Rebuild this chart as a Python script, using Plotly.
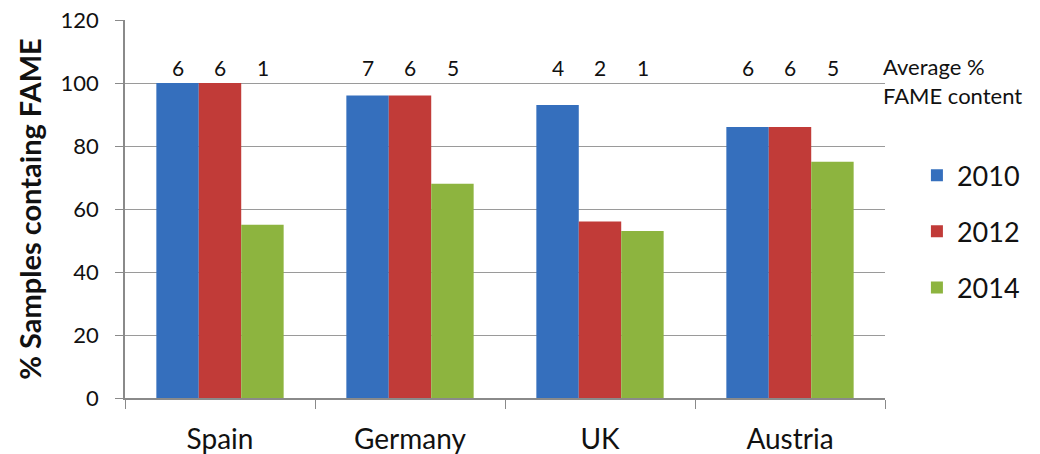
import plotly.graph_objects as go

countries = ["Spain", "Germany", "UK", "Austria"]
years = ["2010", "2012", "2014"]
pct_2010 = [100, 96, 93, 86]
pct_2012 = [100, 96, 56, 86]
pct_2014 = [55, 68, 53, 75]
avg_2010 = [6, 7, 4, 6]
avg_2012 = [6, 6, 2, 6]
avg_2014 = [1, 5, 1, 5]
colors = ["#356fbd", "#c13b38", "#8db43f"]
label_y = 105

series = [pct_2010, pct_2012, pct_2014]
avgs = [avg_2010, avg_2012, avg_2014]

FONT = "Lato, 'Open Sans', sans-serif"

fig = go.Figure()
for i, (yr, vals) in enumerate(zip(years, series)):
    fig.add_trace(go.Bar(
        x=countries, y=vals, name=yr,
        marker=dict(color=colors[i], line=dict(width=0)),
        legendgroup=yr,
    ))

annotations = []
offsets = [-42.5, 0, 42.5]
for i, a in enumerate(avgs):
    for c, v in zip(countries, a):
        annotations.append(dict(
            x=c, y=label_y, xref="x", yref="y", text=str(v),
            showarrow=False, xshift=offsets[i],
            font=dict(size=21, color="#111", family=FONT),
        ))
annotations.append(dict(
    x=1.0, y=label_y + 5.2, xref="paper", yref="y",
    text="Average %<br>FAME content", showarrow=False,
    xanchor="left", yanchor="top", align="left", xshift=-4,
    font=dict(size=22, color="#111", family=FONT),
))

fig.update_layout(
    width=1040, height=454,
    margin=dict(l=117, r=163, t=12, b=64),
    plot_bgcolor="white", paper_bgcolor="white",
    barmode="group", bargap=0.33, bargroupgap=0,
    font=dict(family=FONT, color="#111"),
    annotations=annotations,
    legend=dict(
        x=1.042, y=0.44, xanchor="left", yanchor="middle",
        font=dict(size=27, family=FONT, color="#111"),
        tracegroupgap=18, traceorder="grouped",
        itemwidth=30,
    ),
    xaxis=dict(
        type="category", tickson="boundaries", automargin=False,
        ticks="outside", ticklen=9, tickcolor="#8a8a8a",
        showline=True, linecolor="#8a8a8a", linewidth=1.5,
        tickfont=dict(size=28, family=FONT, color="#111"),
        ticklabelstandoff=16,
        showgrid=False,
    ),
    yaxis=dict(
        range=[0, 120], tickmode="array",
        tickvals=[0, 20, 40, 60, 80, 100, 120],
        automargin=False, ticklabeloverflow="allow",
        ticks="outside", ticklen=8, tickcolor="#8a8a8a",
        showline=True, linecolor="#8a8a8a", linewidth=1.5,
        showgrid=True, gridcolor="#9a9a9a", gridwidth=1.2,
        zeroline=False,
        tickfont=dict(size=22, family=FONT, color="#111"),
        ticklabelstandoff=12,
        title=dict(text="<b>% Samples containg FAME</b>",
                   font=dict(size=29, family=FONT, color="#111"), standoff=10),
    ),
)

fig.write_html("out.html")
